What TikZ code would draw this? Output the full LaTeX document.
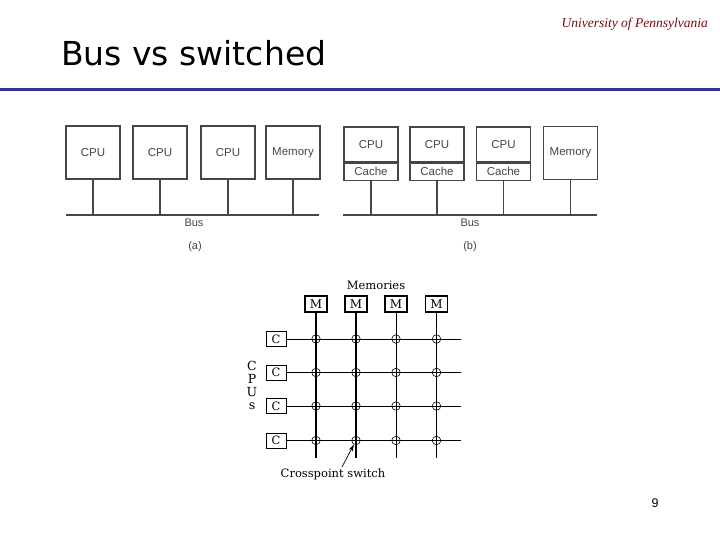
\documentclass[tikz,border=0pt]{standalone}
\usepackage{fontspec}
\setmainfont{Liberation Sans}
\newfontfamily\serifA{DejaVu Serif}
\newfontfamily\uniA{Liberation Serif}
\newfontfamily\titleA{DejaVu Sans}
\usetikzlibrary{arrows.meta}
\definecolor{penn}{RGB}{120,10,20}
\definecolor{rulecol}{RGB}{51,51,153}
\definecolor{scan}{RGB}{70,70,70}
\begin{document}
\begin{tikzpicture}[x=1pt,y=-1pt,
  unitbox/.style={draw=scan, line width=1.1pt, minimum width=54pt, minimum height=53pt, inner sep=0, font=\fontsize{11.5}{12}\selectfont, text=scan},
  cpubox/.style={draw=scan, line width=1.1pt, minimum width=54pt, minimum height=35pt, inner sep=0, font=\fontsize{11.5}{12}\selectfont, text=scan},
  cachebox/.style={draw=scan, line width=1.1pt, minimum width=54pt, minimum height=17pt, inner sep=0, font=\fontsize{11.5}{12}\selectfont, text=scan},
  busline/.style={draw=scan, line width=1.3pt},
  lab/.style={font=\fontsize{11}{12}\selectfont, text=scan, inner sep=0},
  mbox/.style={draw=black, line width=1.1pt, minimum width=22pt, minimum height=16pt, inner sep=0, font=\serifA\fontsize{12}{12}\selectfont},
  cbox/.style={draw=black, line width=0.8pt, minimum width=20pt, minimum height=15pt, inner sep=0, font=\serifA\fontsize{11.5}{12}\selectfont},
  xpt/.style={circle, draw=black, line width=0.6pt, minimum size=8.5pt, inner sep=0},
  sertext/.style={font=\serifA\fontsize{11.5}{12}\selectfont, inner sep=0}
]
\useasboundingbox (0,0) rectangle (720,540);
\fill[white] (0,0) rectangle (720,540);

% header
\node[anchor=west, inner sep=0, font=\titleA\fontsize{33}{36}\selectfont] (title) at (61,53) {Bus vs switched};
\node[anchor=east, inner sep=0, text=penn, font=\uniA\itshape\fontsize{13.5}{15}\selectfont] (univ) at (708,24) {University of Pennsylvania};
\coordinate (ruleL) at (0,90);
\coordinate (ruleR) at (720,90);
\draw[rulecol, line width=3pt] (ruleL) -- (ruleR);

% (a) bus
\node[unitbox] (a1) at (93,152.5) {CPU};
\node[unitbox] (a2) at (160,152.5) {CPU};
\node[unitbox] (a3) at (228,152.5) {CPU};
\node[unitbox] (a4) at (293,152.5) {Memory};
\coordinate (abusL) at (66,215);
\coordinate (abusR) at (319,215);
\draw[busline] (abusL) -- (abusR);
\foreach \n in {a1,a2,a3,a4} \draw[busline] (\n.south) -- (\n.south |- abusL);
\node[lab] (abus) at (194,223) {Bus};
\node[lab] (acap) at (195,247) {(a)};

% (b) bus with caches
\node[cpubox] (b1) at (371,144.5) {CPU};
\node[cachebox, anchor=north] (b1c) at (b1.south) {Cache};
\node[cpubox] (b2) at (437,144.5) {CPU};
\node[cachebox, anchor=north] (b2c) at (b2.south) {Cache};
\node[cpubox] (b3) at (503.5,144.5) {CPU};
\node[cachebox, anchor=north] (b3c) at (b3.south) {Cache};
\node[unitbox] (b4) at (570.5,153) {Memory};
\coordinate (bbusL) at (343,215);
\coordinate (bbusR) at (597,215);
\draw[busline] (bbusL) -- (bbusR);
\foreach \n in {b1c,b2c,b3c,b4} \draw[busline] (\n.south) -- (\n.south |- bbusL);
\node[lab] (bbus) at (470,223) {Bus};
\node[lab] (bcap) at (470,247) {(b)};

% crossbar
\node[sertext] (memlab) at (376,285) {Memories};
\node[mbox] (m1) at (316,304) {M};
\node[mbox, line width=1.6pt] (m2) at (356,304) {M};
\node[mbox] (m3) at (396,304) {M};
\node[mbox] (m4) at (436.5,304) {M};
\node[cbox] (c1) at (276,339) {C};
\node[cbox] (c2) at (276,372.5) {C};
\node[cbox] (c3) at (276,406) {C};
\node[cbox] (c4) at (276,440.5) {C};
\foreach \j in {1,...,4} {
  \coordinate (hend\j) at (461,0 |- c\j);
  \draw[black, line width=0.8pt] (c\j.east) -- (hend\j);
}
\foreach \i/\w in {1/2.6pt,2/2.6pt,3/0.8pt,4/0.8pt} {
  \coordinate (vend\i) at (m\i |- 0,458);
  \draw[black, line width=\w] (m\i.south) -- (vend\i);
}
\foreach \i in {1,...,4} \foreach \j in {1,...,4} {
  \node[xpt] (x\i\j) at (m\i |- c\j) {};
}
\node[sertext, font=\serifA\fontsize{12.5}{13}\selectfont] (cl) at (252,366) {C};
\node[sertext, font=\serifA\fontsize{12.5}{13}\selectfont] (pl) at (252,379) {P};
\node[sertext, font=\serifA\fontsize{12.5}{13}\selectfont] (ul) at (252,392) {U};
\node[sertext, font=\serifA\fontsize{12.5}{13}\selectfont] (sl) at (252,406) {s};
\node[sertext] (xlab) at (333,474) {Crosspoint switch};
\coordinate (arrstart) at (342,467);
\draw[black, line width=0.7pt, -{Stealth[length=7pt,width=4.5pt]}] (arrstart) -- (x24);

% page number
\node[inner sep=0, font=\fontsize{12.5}{14}\selectfont] (pg) at (655,503) {9};
\end{tikzpicture}
\end{document}
